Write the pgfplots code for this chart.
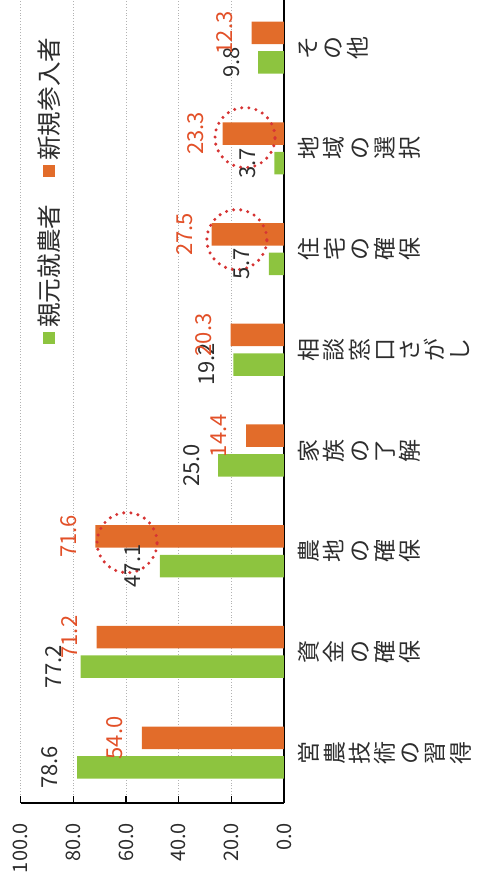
\documentclass[border=0pt]{standalone}
\usepackage{fontspec}
\setmainfont{Noto Sans CJK JP}
\usepackage{pgfplots}
\pgfplotsset{compat=1.18}
\definecolor{cgreen}{RGB}{141,196,63}
\definecolor{corange}{RGB}{226,108,42}
\definecolor{clabel}{RGB}{226,80,40}
\definecolor{ccircle}{RGB}{214,52,52}
\definecolor{ctext}{RGB}{45,45,45}
\begin{document}
\begin{tikzpicture}
\begin{axis}[
  at={(0,0)}, anchor=south west,
  scale only axis, width=131.65pt, height=402.85pt,
  xbar, x dir=reverse,
  xmin=0, xmax=100, ymin=-0.5, ymax=7.5,
  axis x line*=bottom, axis y line*=right,
  axis line style={black, line width=0.9pt},
  xtick={0,20,...,100},
  xticklabel={\pgfmathprintnumber[fixed,fixed zerofill,precision=1,assume math mode=true]{\tick}},
  xticklabel style={rotate=90, anchor=east, font=\fontsize{10}{12}\selectfont, text=ctext},
  xticklabel shift=6.5pt,
  tick align=inside, major tick length=3.5pt,
  xtick style={black, line width=0.6pt},
  ytick={0,...,7},
  yticklabels={{営\\農\\技\\術\\の\\習\\得},{資\\金\\の\\確\\保},{農\\地\\の\\確\\保},{家\\族\\の\\了\\解},{相\\談\\窓\\口\\さ\\が\\し},{住\\宅\\の\\確\\保},{地\\域\\の\\選\\択},{そ\\の\\他}},
  yticklabel style={rotate=90, anchor=north, align=center, font=\fontsize{11.5}{12.6}\selectfont, text=ctext},
  yticklabel shift=3.7pt,
  ytick style={draw=none},
  xmajorgrids, grid style={densely dotted, black!30, line width=0.5pt},
  bar width=0.2234,
  nodes near coords={\pgfmathprintnumber[fixed,fixed zerofill,precision=1,assume math mode=true]{\pgfplotspointmeta}},
  every node near coord/.append style={font=\fontsize{11}{12}\selectfont, xshift=-13.5pt, rotate=90, anchor=center},
  reverse legend,
  legend style={at={(axis cs:89,5.58)}, anchor=center, draw=none, fill=none,
    legend columns=1, row sep=14pt, column sep=0pt,
    nodes={rotate=90, inner sep=0pt, font=\fontsize{12.3}{14}\selectfont, text=ctext}},
  legend image code/.code={},
]
\addplot[fill=cgreen, draw=none, bar shift=-0.147, every node near coord/.append style={text=ctext}]
  coordinates {(78.6,0) (77.2,1) (47.1,2) (25.0,3) (19.2,4) (5.7,5) (3.7,6) (9.8,7)};
\addlegendentry{\textcolor{cgreen}{\raisebox{1.7pt}{\rule{6pt}{6pt}}}\hspace{2pt}親元就農者}
\addplot[fill=corange, draw=none, bar shift=0.147, every node near coord/.append style={text=clabel}]
  coordinates {(54.0,0) (71.2,1) (71.6,2) (14.4,3) (20.3,4) (27.5,5) (23.3,6) (12.3,7)};
\addlegendentry{\textcolor{corange}{\raisebox{1.7pt}{\rule{6pt}{6pt}}}\hspace{2pt}新規参入者}
\draw[ccircle, line width=1.7pt, dash pattern=on 0pt off 3.6pt, line cap=round] (axis cs:59.6,2.085) circle[radius=15pt];
\draw[ccircle, line width=1.7pt, dash pattern=on 0pt off 3.6pt, line cap=round] (axis cs:17.9,5.094) circle[radius=15pt];
\draw[ccircle, line width=1.7pt, dash pattern=on 0pt off 3.6pt, line cap=round] (axis cs:14.8,6.107) circle[radius=15pt];
\end{axis}
\pgfresetboundingbox
\path[use as bounding box] (-10.35pt,-41pt) rectangle (228.15pt,401.5pt);
\end{tikzpicture}
\end{document}
